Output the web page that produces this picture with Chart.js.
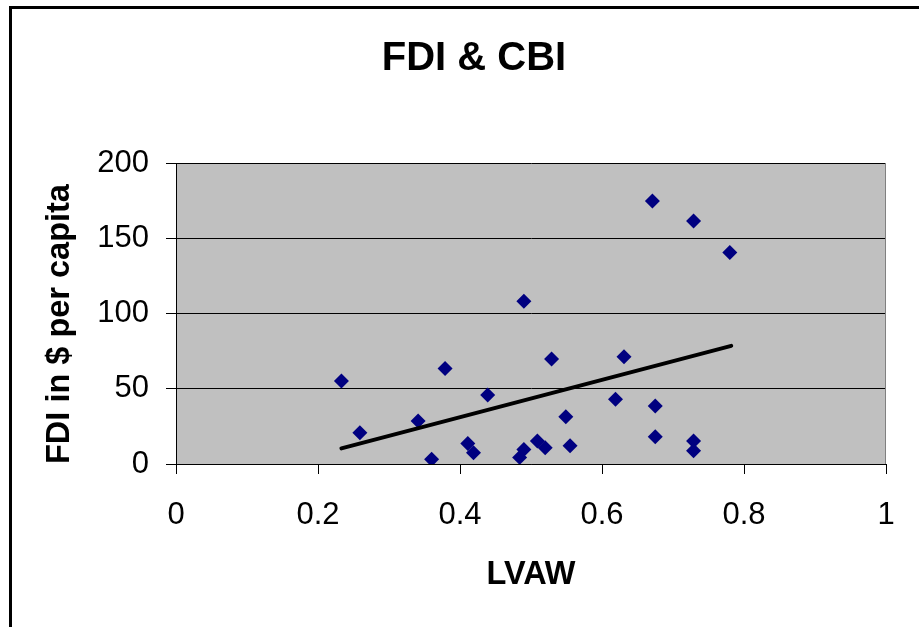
<!DOCTYPE html>
<html><head><meta charset="utf-8">
<script src="https://cdn.jsdelivr.net/npm/chart.js@4.4.0/dist/chart.umd.min.js"></script>
<style>
html,body{margin:0;padding:0;background:#fff;overflow:hidden;width:919px;height:627px}
#frame{position:absolute;left:9px;top:6px;width:1000px;height:1000px;border-left:3px solid #000;border-top:3px solid #000;box-sizing:border-box}
#wrap{position:absolute;left:0;top:0;width:919px;height:627px}
</style></head><body>
<div id="frame"></div>
<div id="wrap"><canvas id="c" width="919" height="627"></canvas></div>
<script>
// ---- data ----
const lvaw = [0.233,0.259,0.341,0.360,0.379,0.411,0.419,0.439,0.484,0.490,0.490,0.509,0.520,0.529,0.549,0.555,0.619,0.631,0.671,0.675,0.675,0.729,0.729,0.729,0.780];
const fdi  = [55.1,20.8,28.5,3.1,63.5,13.7,7.5,45.8,4.4,9.7,108.2,15.3,10.8,69.7,31.4,12.2,43.1,71.2,174.8,38.5,18.1,161.5,15.3,8.8,140.5];
const trendX = [0.233, 0.782];
const trendY = [10.4, 78.5];
const xTicks = [0, 0.2, 0.4, 0.6, 0.8, 1];
const yTicks = [0, 50, 100, 150, 200];

function hasFont(name){
  const c=document.createElement('canvas').getContext('2d');
  const s='FDI & CBI 0.123 LVAW';
  c.font='40px monospace'; const a=c.measureText(s).width;
  c.font='40px "'+name+'", monospace'; const b=c.measureText(s).width;
  return Math.abs(a-b)>1;
}
const narrow = hasFont('Liberation Sans Narrow');
const FAM = narrow ? '"Liberation Sans Narrow", "Liberation Sans", Arial, sans-serif' : '"Liberation Sans", Arial, sans-serif';
const S = narrow ? {title:46, tick:36, axis:37} : {title:40, tick:31, axis:32.5};

const PADL = 62; // layout left padding so the title centres where the reference has it

const plotBg = {
  id:'plotBg',
  beforeDraw(chart){
    const {ctx, chartArea:a} = chart;
    ctx.save(); ctx.fillStyle='#C0C0C0';
    ctx.fillRect(a.left, a.top, a.right-a.left, a.bottom-a.top);
    ctx.restore();
  },
  beforeDatasetsDraw(chart){
    const {ctx, chartArea:a} = chart;
    ctx.save(); ctx.strokeStyle='#808080'; ctx.lineWidth=1;
    ctx.beginPath(); ctx.moveTo(Math.round(a.right)-0.5, a.top); ctx.lineTo(Math.round(a.right)-0.5, a.bottom); ctx.stroke();
    ctx.restore();
  }
};

new Chart(document.getElementById('c'), {
  type:'scatter',
  data:{
    datasets:[
      {
        label:'Trend',
        type:'line',
        data: trendX.map((x,i)=>({x:x, y:trendY[i]})),
        borderColor:'#000', borderWidth:4, borderCapStyle:'round',
        pointRadius:0, fill:false, showLine:true, order:0
      },
      {
        label:'FDI',
        data: lvaw.map((x,i)=>({x:x, y:fdi[i]})),
        pointStyle:'rectRot', pointRadius:7.5, pointHoverRadius:7.5,
        backgroundColor:'#000080', borderColor:'#000080', borderWidth:0, order:1
      }
    ]
  },
  options:{
    responsive:false, animation:false, devicePixelRatio:1,
    layout:{padding:{left:PADL, top:0, right:33, bottom:0}},
    plugins:{
      legend:{display:false}, tooltip:{enabled:false},
      title:{display:true, text:'FDI & CBI', color:'#000',
        font:{family:FAM, size:S.title, weight:'bold'},
        padding:{top:59-0.6*S.title, bottom:104-0.6*S.title}}
    },
    scales:{
      x:{
        type:'linear', min:0, max:1,
        afterBuildTicks(s){ s.ticks = xTicks.map(v=>({value:v})); },
        afterFit(s){ s.height = 163; },
        ticks:{color:'#000', font:{family:FAM, size:S.tick}, padding:41.5-0.6*S.tick, maxRotation:0,
          callback:(v)=>String(v)},
        grid:{drawOnChartArea:false, drawTicks:true, tickLength:10, color:'#000', lineWidth:1},
        border:{display:true, color:'#000', width:1},
        title:{display:true, text:'LVAW', color:'#000', font:{family:FAM, size:S.axis, weight:'bold'},
          padding:{top:0, bottom:51.5-0.6*S.axis}}
      },
      y:{
        type:'linear', min:0, max:200,
        afterBuildTicks(s){ s.ticks = yTicks.map(v=>({value:v})); },
        afterFit(s){ s.width = 176-PADL; },
        ticks:{color:'#000', font:{family:FAM, size:S.tick}, padding:17, callback:(v)=>String(v)},
        grid:{drawOnChartArea:true, drawTicks:true, tickLength:10, color:'#000', lineWidth:1},
        border:{display:true, color:'#000', width:1},
        title:{display:true, text:'FDI in $ per capita', color:'#000', align:'start',
          font:{family:FAM, size:S.axis, weight:'bold'},
          padding:{top:59.7-PADL-0.6*S.axis, bottom:0}}
      }
    }
  },
  plugins:[plotBg]
});
</script>
</body></html>
